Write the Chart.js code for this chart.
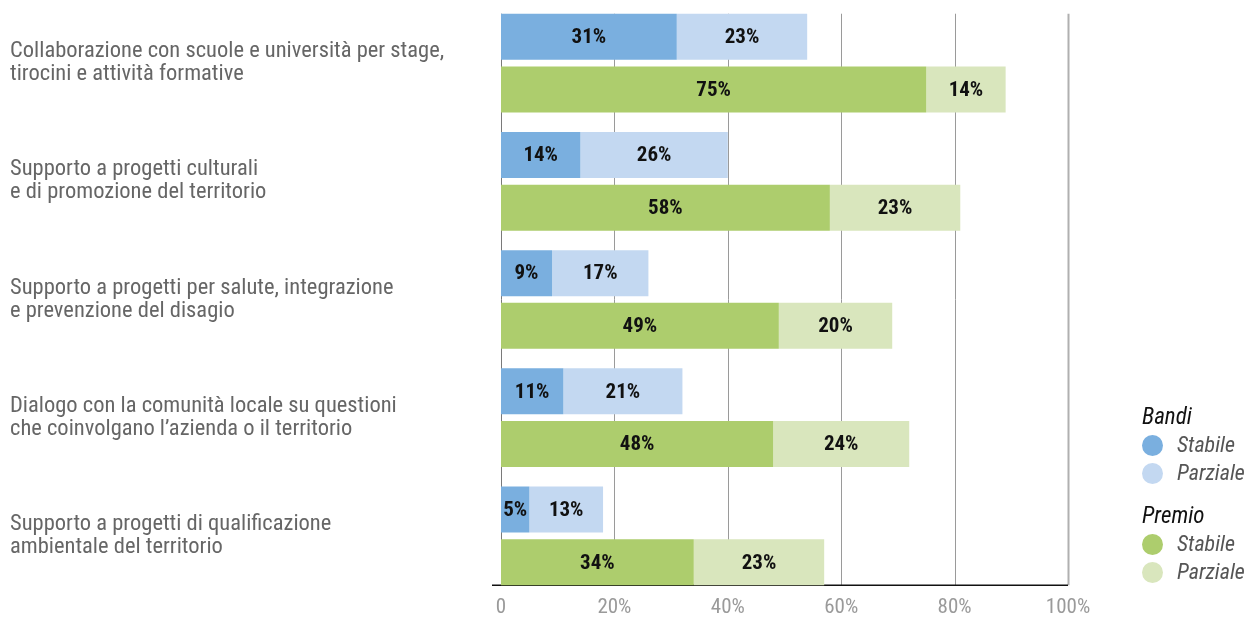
<!DOCTYPE html>
<html>
<head>
<meta charset="utf-8">
<script src="https://cdn.jsdelivr.net/npm/chart.js@4.4.1/dist/chart.umd.min.js"></script>
<style>
  html, body { margin: 0; padding: 0; background: #fff; }
  #wrap { position: relative; width: 1245px; height: 617px; }
  #legend { position: absolute; left: 1142px; top: 402px; font-family: "Roboto Condensed", "DejaVu Sans Condensed", sans-serif; font-style: italic; }
  #legend .head { font-size: 23px; color: #111; height: 29px; line-height: 29px; }
  #legend .item { font-size: 22px; color: #555; height: 28px; line-height: 28px; position: relative; padding-left: 35px; }
  #legend .dot { position: absolute; left: 0; top: 4px; width: 21px; height: 21px; border-radius: 50%; }
  #legend .gap { height: 14px; }
</style>
</head>
<body>
<div id="wrap">
  <canvas id="chart" width="1245" height="617"></canvas>
  <div id="legend"></div>
</div>
<script>
const categories = [
  ['Collaborazione con scuole e università per stage,', 'tirocini e attività formative'],
  ['Supporto a progetti culturali', 'e di promozione del territorio'],
  ['Supporto a progetti per salute, integrazione', 'e prevenzione del disagio'],
  ['Dialogo con la comunità locale su questioni', 'che coinvolgano l\u2019azienda o il territorio'],
  ['Supporto a progetti di qualificazione', 'ambientale del territorio']
];
const bandiStabile = [31, 14, 9, 11, 5];
const bandiParziale = [23, 26, 17, 21, 13];
const premioStabile = [75, 58, 49, 48, 34];
const premioParziale = [14, 23, 20, 24, 23];
const xTicks = [0, 20, 40, 60, 80, 100];

const FONT = '"Roboto Condensed", "DejaVu Sans Condensed", sans-serif';

const groups = [
  { title: 'Bandi', stack: 'bandi', series: [
    { label: 'Stabile', data: bandiStabile, color: '#7aafdf' },
    { label: 'Parziale', data: bandiParziale, color: '#c3d8f1' }
  ] },
  { title: 'Premio', stack: 'premio', series: [
    { label: 'Stabile', data: premioStabile, color: '#adcd6d' },
    { label: 'Parziale', data: premioParziale, color: '#d9e6bd' }
  ] }
];

const datasets = [];
groups.forEach(g => {
  g.series.forEach(s => {
    datasets.push({
      label: g.title + ' ' + s.label,
      data: s.data,
      stack: g.stack,
      backgroundColor: s.color,
      borderWidth: 0,
      categoryPercentage: 0.892,
      barPercentage: 0.873
    });
  });
});

// vertical grid lines, only between the first and last bar
const gridPlugin = {
  id: 'gridLines',
  beforeDatasetsDraw(chart) {
    const ctx = chart.ctx;
    const x = chart.scales.x;
    const first = chart.getDatasetMeta(0).data[0];
    const last = chart.getDatasetMeta(chart.data.datasets.length - 1).data.slice(-1)[0];
    const top = first.y - first.height / 2;
    const bottom = last.y + last.height / 2;
    ctx.save();
    xTicks.forEach((t, i) => {
      const px = Math.round(x.getPixelForValue(t)) + 0.5;
      ctx.strokeStyle = i === 0 ? '#7a7a7a' : (i === xTicks.length - 1 ? '#b0b0b0' : '#9a9a9a');
      ctx.lineWidth = i === xTicks.length - 1 ? 2 : 1;
      ctx.beginPath();
      ctx.moveTo(px, top);
      ctx.lineTo(px, bottom);
      ctx.stroke();
    });
    ctx.strokeStyle = '#111';
    ctx.lineWidth = 1.5;
    ctx.beginPath();
    ctx.moveTo(x.getPixelForValue(0) - 9, bottom);
    ctx.lineTo(x.getPixelForValue(100), bottom);
    ctx.stroke();
    ctx.restore();
  }
};

// percentage labels in the middle of each segment
const valuePlugin = {
  id: 'values',
  afterDatasetsDraw(chart) {
    const ctx = chart.ctx;
    ctx.save();
    ctx.font = 'bold 21px ' + FONT;
    ctx.fillStyle = '#111';
    ctx.textAlign = 'center';
    ctx.textBaseline = 'middle';
    chart.data.datasets.forEach((ds, di) => {
      chart.getDatasetMeta(di).data.forEach((bar, i) => {
        ctx.fillText(ds.data[i] + '%', (bar.x + bar.base) / 2, bar.y + 1);
      });
    });
    ctx.restore();
  }
};

const noPad = s => {
  s.paddingTop = 0;
  s.paddingBottom = 0;
  s.paddingLeft = 0;
  s.paddingRight = 0;
};

new Chart(document.getElementById('chart'), {
  type: 'bar',
  data: { labels: categories, datasets: datasets },
  plugins: [gridPlugin, valuePlugin],
  options: {
    indexAxis: 'y',
    responsive: false,
    animation: false,
    devicePixelRatio: 1,
    layout: { padding: { left: 10, right: 177, top: 4, bottom: 0 } },
    plugins: { legend: { display: false }, tooltip: { enabled: false } },
    scales: {
      x: {
        stacked: true,
        min: 0,
        max: 100,
        afterBuildTicks: s => { s.ticks = xTicks.map(v => ({ value: v })); },
        grid: { display: false, drawTicks: false },
        border: { display: false },
        ticks: {
          padding: 2,
          color: '#9a9a9a',
          font: { family: FONT, size: 21, lineHeight: 1 },
          callback: v => v === 0 ? '0' : v + '%'
        },
        afterFit: s => { noPad(s); s.height = 22; }
      },
      y: {
        stacked: true,
        grid: { display: false },
        border: { display: false },
        ticks: {
          crossAlign: 'far',
          color: '#666',
          font: { family: FONT, size: 22.5, lineHeight: 1.02 }
        },
        afterFit: s => { noPad(s); s.width = 491; }
      }
    }
  }
});

// legend grouped by Bandi / Premio
const legend = document.getElementById('legend');
groups.forEach((g, gi) => {
  if (gi > 0) legend.insertAdjacentHTML('beforeend', '<div class="gap"></div>');
  legend.insertAdjacentHTML('beforeend', '<div class="head">' + g.title + '</div>');
  g.series.forEach(s => {
    legend.insertAdjacentHTML('beforeend',
      '<div class="item"><span class="dot" style="background:' + s.color + '"></span>' + s.label + '</div>');
  });
});
</script>
</body>
</html>
